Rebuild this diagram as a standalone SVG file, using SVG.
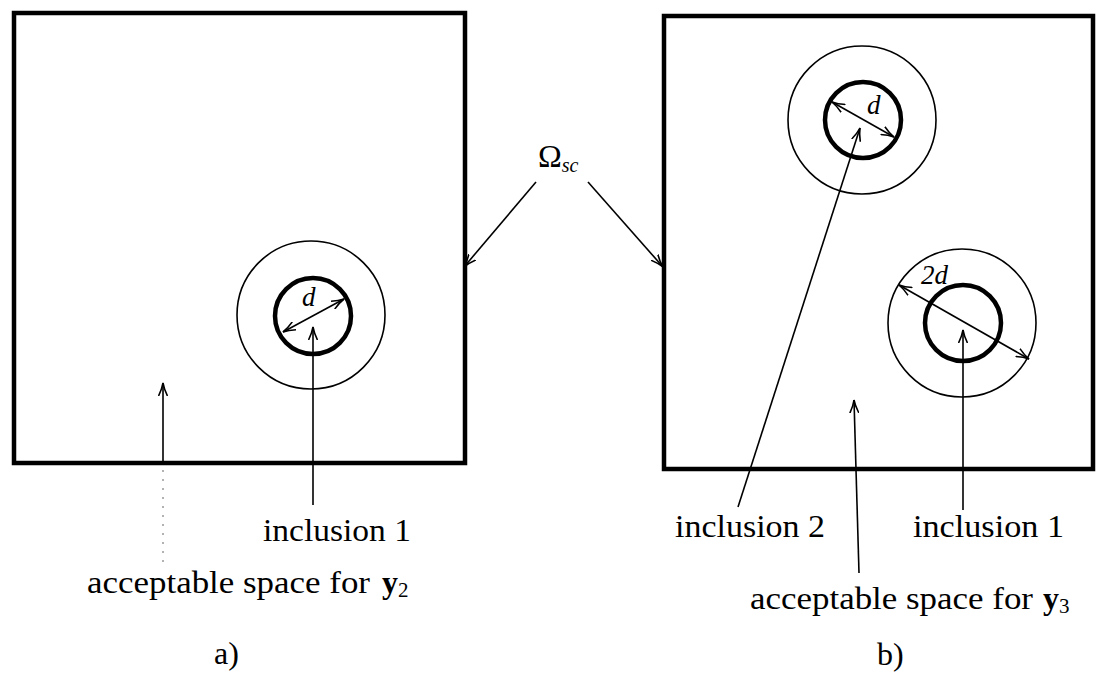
<svg xmlns="http://www.w3.org/2000/svg" width="1108" height="677" viewBox="0 0 1108 677">
<style>
.box{fill:none;stroke:#000;stroke-width:4.5}
.outer{fill:none;stroke:#000;stroke-width:1.6}
.inner{fill:none;stroke:#000;stroke-width:4.5}
.arr{fill:none;stroke:#000;stroke-width:1.6}
.t{font-family:"Liberation Serif","DejaVu Serif",serif;font-size:32px;fill:#000}
.lbl{font-family:"Liberation Serif","DejaVu Serif",serif;font-size:27px;font-style:italic;fill:#000}
.b{font-weight:bold}
</style>
<defs>
<marker id="ah" viewBox="0 0 14 10" refX="13" refY="5" markerWidth="14" markerHeight="10" markerUnits="userSpaceOnUse" orient="auto-start-reverse">
<path d="M0,0.5 Q7,4 13,5 Q7,6 0,9.5" fill="none" stroke="#000" stroke-width="1.6"/>
</marker>
</defs>
<g id="panel-a">
<rect class="box" x="14" y="13" width="451" height="450"/>
</g>
<g id="panel-b">
<rect class="box" x="664" y="16" width="429" height="453"/>
</g>
<g id="inclusion1-a">
<circle class="outer" cx="311" cy="315" r="74"/>
<circle class="inner" cx="313" cy="316" r="38"/>
<text class="lbl" x="302" y="306">d</text>
</g>
<g id="inclusion2-b">
<circle class="outer" cx="862" cy="120" r="74"/>
<circle class="inner" cx="863" cy="120" r="38"/>
<text class="lbl" x="867" y="114">d</text>
</g>
<g id="inclusion1-b">
<circle class="outer" cx="962" cy="323" r="74"/>
<circle class="inner" cx="963" cy="323" r="38"/>
<text class="lbl" x="921" y="284" font-style="normal">2<tspan font-style="italic">d</tspan></text>
</g>
<g id="labels">
<text class="t" x="538" y="167">Ω<tspan font-size="20" font-style="italic" dy="5">sc</tspan></text>
<text class="t" x="263" y="541" textLength="148" lengthAdjust="spacingAndGlyphs">inclusion 1</text>
<text class="t" x="87" y="593" textLength="283" lengthAdjust="spacingAndGlyphs">acceptable space for</text>
<text class="t b" x="382" y="593">y<tspan font-size="21" font-weight="normal" dy="4">2</tspan></text>
<text class="t" x="214" y="664">a)</text>
<text class="t" x="675" y="537" textLength="150" lengthAdjust="spacingAndGlyphs">inclusion 2</text>
<text class="t" x="913" y="537" textLength="151" lengthAdjust="spacingAndGlyphs">inclusion 1</text>
<text class="t" x="750" y="609" textLength="283" lengthAdjust="spacingAndGlyphs">acceptable space for</text>
<text class="t b" x="1043" y="609">y<tspan font-size="21" font-weight="normal" dy="4">3</tspan></text>
<text class="t" x="877" y="665">b)</text>
</g>
<g id="connectors">
<line class="arr" x1="283" y1="332" x2="344" y2="299" marker-start="url(#ah)" marker-end="url(#ah)"/>
<line class="arr" x1="313" y1="505" x2="313" y2="327" marker-end="url(#ah)"/>
<line class="arr" x1="163" y1="462" x2="163" y2="383" marker-end="url(#ah)"/>
<line x1="163" y1="470" x2="163" y2="562" stroke="#666" stroke-width="1" stroke-dasharray="2,7"/>
<line class="arr" x1="536" y1="182" x2="464" y2="267" marker-end="url(#ah)"/>
<line class="arr" x1="588" y1="182" x2="663" y2="267" marker-end="url(#ah)"/>
<line class="arr" x1="832" y1="102" x2="894" y2="137" marker-start="url(#ah)" marker-end="url(#ah)"/>
<line class="arr" x1="738" y1="507" x2="860" y2="128" marker-end="url(#ah)"/>
<line class="arr" x1="899" y1="285" x2="1029" y2="359" marker-start="url(#ah)" marker-end="url(#ah)"/>
<line class="arr" x1="963" y1="510" x2="963" y2="330" marker-end="url(#ah)"/>
<line class="arr" x1="859" y1="573" x2="854" y2="400" marker-end="url(#ah)"/>
</g>
</svg>
